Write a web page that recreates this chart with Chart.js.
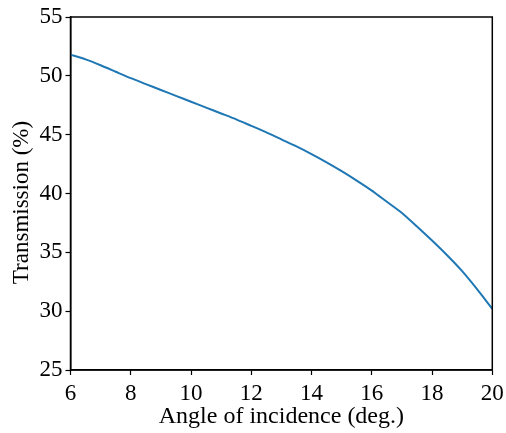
<!DOCTYPE html>
<html>
<head>
<meta charset="utf-8">
<script src="https://cdn.jsdelivr.net/npm/chart.js@4/dist/chart.umd.min.js"></script>
<style>
  html, body { margin: 0; padding: 0; background: #fff; }
  #wrap { width: 506px; height: 433px; }
</style>
</head>
<body>
<div id="wrap"><canvas id="chart"></canvas></div>
<script>
// angle of incidence (deg.)
const angles = [6, 6.5, 7, 7.5, 8, 8.5, 9, 9.5, 10, 10.5, 11, 11.5, 12, 12.5, 13,
  13.5, 14, 14.5, 15, 15.5, 16, 16.5, 17, 17.5, 18, 18.5, 19, 19.5, 20]
// transmission (%)
const transmission = [51.8, 51.4, 50.9, 50.35, 49.8, 49.3, 48.8, 48.3, 47.8, 47.3,
  46.8, 46.3, 45.75, 45.2, 44.6, 44.0, 43.35, 42.65, 41.9, 41.1, 40.25, 39.3,
  38.35, 37.2, 36.0, 34.75, 33.4, 31.85, 30.2]

const xTicks = [6, 8, 10, 12, 14, 16, 18, 20]
const yTicks = [25, 30, 35, 40, 45, 50, 55]
const yTitle = 'Transmission (%)'

const serif = 'Liberation Serif, Times New Roman, serif'

// box around plot area (matplotlib style frame) + y label
const frame = {
  id: 'frame',
  afterDraw (chart) {
    const { ctx, chartArea: a } = chart
    ctx.save()
    ctx.strokeStyle = '#000'
    ctx.lineWidth = 1.5
    ctx.strokeRect(a.left, a.top, a.right - a.left, a.bottom - a.top)

    // y label sits a bit below the axis centre, like the original
    ctx.translate(22, (a.top + a.bottom) / 2 + 9)
    ctx.rotate(-Math.PI / 2)
    ctx.fillStyle = '#000'
    ctx.font = '23px ' + serif
    ctx.textAlign = 'center'
    ctx.textBaseline = 'middle'
    ctx.fillText(yTitle, 0, 0)
    ctx.restore()
  }
}

new Chart(document.getElementById('chart'), {
  type: 'line',
  data: {
    datasets: [{
      data: angles.map((a, i) => ({ x: a, y: transmission[i] })),
      borderColor: '#1f77b4',
      borderWidth: 2,
      pointRadius: 0,
      tension: 0.2,
      fill: false
    }]
  },
  options: {
    responsive: true,
    maintainAspectRatio: false,
    animation: false,
    layout: { padding: { top: 17, right: 13.7, left: 0, bottom: 0 } },
    plugins: {
      legend: { display: false },
      tooltip: { enabled: false }
    },
    scales: {
      x: {
        type: 'linear',
        min: 6,
        max: 20,
        afterBuildTicks: s => { s.ticks = xTicks.map(v => ({ value: v })) },
        afterFit: s => { s.height = 63; s.paddingLeft = 0; s.paddingRight = 0 },
        grid: { drawOnChartArea: false, tickLength: 5, color: '#000', tickWidth: 1.2 },
        border: { display: true, color: '#000', width: 1.5 },
        ticks: { color: '#000', padding: 5, maxRotation: 0, font: { family: serif, size: 23 } },
        title: {
          display: true,
          text: 'Angle of incidence (deg.)',
          color: '#000',
          padding: { top: 2, bottom: 2 },
          font: { family: serif, size: 24 }
        }
      },
      y: {
        min: 25,
        max: 55,
        afterBuildTicks: s => { s.ticks = yTicks.map(v => ({ value: v })) },
        afterFit: s => { s.width = 70.5; s.paddingTop = 0; s.paddingBottom = 0 },
        grid: { drawOnChartArea: false, tickLength: 5, color: '#000', tickWidth: 1.2 },
        border: { display: true, color: '#000', width: 1.5 },
        ticks: { color: '#000', padding: 3, font: { family: serif, size: 23 } },
        title: { display: false }
      }
    }
  },
  plugins: [frame]
})
</script>
</body>
</html>
